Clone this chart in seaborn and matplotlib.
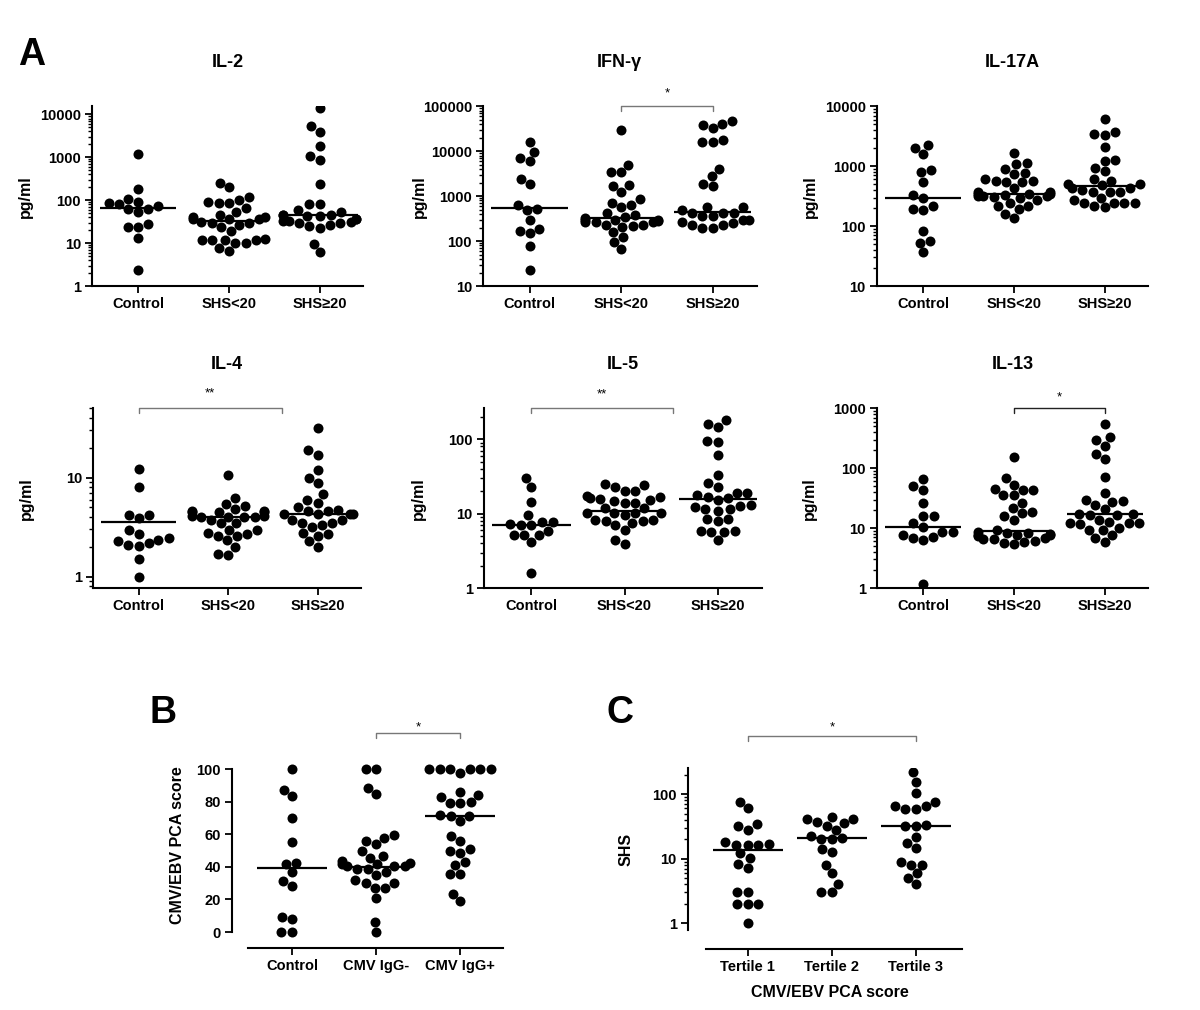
import numpy as np
import pandas as pd
import matplotlib
matplotlib.use("Agg")
import matplotlib.pyplot as plt
import seaborn as sns

# groups
groups_a = ["Control", "SHS<20", "SHS\u226520"]
groups_b = ["Control", "CMV IgG-", "CMV IgG+"]
groups_c = ["Tertile 1", "Tertile 2", "Tertile 3"]

# IL-2 (pg/ml)
il2_control = [1200, 180, 87, 72, 107, 61, 52, 64, 81, 92, 28, 24, 24, 13, 2.4]
il2_shs_lo = [257, 200, 100, 85, 88, 92, 116, 66, 53, 46, 41, 36, 30, 29, 24, 27, 31, 36, 36, 41,
              19, 12, 12, 12, 11.7, 12.4, 10.2, 10, 6.5, 7.8]
il2_shs_hi = [14000, 5260, 3880, 1800, 1050, 880, 235, 81, 80, 58, 53, 46, 46, 46, 42, 42, 37, 37,
              32, 31, 29, 29, 32, 25, 23, 27, 9.8, 6.2]
il2_median = [66, 33, 45]

# IFN-g
ifng_control = [15800, 9500, 7200, 5900, 2430, 1860, 650, 490, 530, 300, 188, 148, 170, 77, 23]
ifng_shs_lo = [30000, 5000, 3400, 3400, 1750, 1700, 1260, 720, 850, 630, 560, 420, 390, 345, 300,
               270, 290, 285, 300, 320, 260, 230, 220, 230, 210, 270, 160, 125, 94, 65]
ifng_shs_hi = [46500, 38000, 32000, 41000, 17300, 16000, 16000, 4000, 2780, 1900, 1670, 560, 490,
               560, 425, 425, 425, 360, 360, 300, 300, 255, 270, 230, 230, 200, 200]
ifng_median = [540, 320, 450]

# IL-17A
il17a_control = [2240, 2040, 1580, 880, 800, 550, 330, 290, 215, 185, 193, 83, 56, 53, 37]
il17a_shs_lo = [1670, 1140, 1080, 910, 740, 780, 570, 570, 540, 550, 600, 425, 375, 320, 320, 340,
                340, 350, 365, 290, 310, 320, 270, 240, 220, 220, 190, 162, 135, 330]
il17a_shs_hi = [6200, 3460, 3370, 3700, 2050, 1230, 1260, 830, 940, 570, 620, 500, 425, 370, 370,
                370, 400, 425, 480, 500, 270, 245, 245, 295, 245, 245, 205, 220]
il17a_median = [290, 345, 460]

# IL-4
il4_control = [12.2, 8.1, 4.2, 4.15, 3.9, 2.95, 2.7, 2.36, 2.45, 2.18, 2.27, 2.02, 2.1, 1.52, 1.0]
il4_shs_lo = [10.6, 6.2, 5.4, 5.2, 4.8, 4.5, 4.5, 4.5, 4.6, 4.6, 4.05, 4.05, 4.05, 4.05, 4.1, 4.1,
              3.5, 3.45, 3.75, 2.97, 2.97, 2.71, 2.75, 2.55, 2.6, 2.36, 2.0, 1.67, 1.7]
il4_shs_hi = [31.4, 19, 17, 11.9, 10, 8.8, 6.85, 5.9, 5.6, 5.0, 4.6, 4.55, 4.7, 4.27, 4.27, 4.27,
              4.27, 3.3, 3.14, 3.75, 3.46, 3.5, 3.7, 2.69, 2.75, 2.6, 2.27, 2.0]
il4_median = [3.6, 4.05, 4.27]

# IL-5
il5_control = [29.9, 23.1, 14.3, 9.5, 7.7, 7.3, 5.9, 7.1, 7.1, 7.7, 5.2, 5.1, 5.1, 4.1, 1.6]
il5_shs_lo = [24.9, 23.1, 23.9, 19.8, 20.3, 17.4, 16.7, 16.2, 15.4, 15.7, 13.9, 13.9, 14.6, 11.9,
              11.9, 10.2, 10.2, 9.7, 10.2, 10.2, 8.3, 8.3, 7.9, 7.9, 7.1, 7.5, 6.1, 4.4, 3.9]
il5_shs_hi = [179, 146, 158, 95, 91, 60.5, 33.4, 25.6, 23.1, 16.2, 18.9, 18.9, 17.5, 16.5, 15.1,
              13.2, 12.5, 10.9, 11.5, 11.5, 12.3, 8.5, 8.5, 7.9, 5.9, 5.6, 5.6, 5.9, 4.4]
il5_median = [7.1, 10.9, 15.5]

# IL-13
il13_control = [66, 50, 44, 25.8, 16.1, 16.1, 12, 10.4, 8.6, 7.8, 6.9, 6.3, 7.0, 8.6, 1.16]
il13_shs_lo = [151, 68, 53, 45, 43, 43, 35.5, 35, 26.5, 22, 18, 18.5, 15.9, 13.8, 8.2, 7.8, 7.4,
               8.4, 8.6, 9.3, 7.8, 7.8, 8.1, 6.5, 6.1, 5.7, 5.4, 5.9, 6.5, 6.8]
il13_shs_hi = [542, 296, 331, 236, 172, 142, 70, 39, 30, 28, 27.5, 24, 21, 17.2, 16.3, 16.3, 17.2,
               13.4, 12, 11.6, 12, 12, 12.6, 9.4, 9.4, 10.2, 7.8, 6.9, 5.9]
il13_median = [10.4, 8.9, 16.9]

# B: CMV/EBV PCA score
pca_control = [100, 87.5, 83.4, 70, 55.2, 41.7, 42.7, 36.8, 31.3, 28, 9.2, 8.2, 0, 0]
pca_igg_neg = [100, 100, 88.5, 84.9, 59.7, 57.7, 53.8, 56.2, 49.9, 46.6, 45.6, 43.4, 42.3, 41.5,
               40.5, 40.5, 41.5, 40.5, 38.9, 38.9, 36.8, 35, 31.7, 30.3, 30.3, 27.2, 27.2, 21.1,
               6.1, 0]
pca_igg_pos = [100, 100, 100, 100, 100, 100, 98, 84.3, 85.9, 83.2, 79.8, 79.3, 79.3, 72, 71, 71,
               68.1, 58.9, 55.8, 51.1, 49.9, 48.5, 42.9, 41.1, 35.8, 35.8, 23.1, 18.8]
pca_median = [39.3, 39.9, 71.4]

# C: SHS by PCA tertile
shs_t1 = [76, 60, 34, 28, 32, 17, 16.5, 18, 16, 16, 12, 8.2, 10.1, 7.1, 3.0, 3.0, 2.0, 2.0, 2.0, 1.0]
shs_t2 = [41, 37.3, 32, 36, 40.5, 43.5, 27.7, 22.7, 20.1, 20.1, 20.6, 13.9, 8.0, 12.8, 5.9, 4.0,
          3.0, 3.0]
shs_t3 = [219, 155, 106, 65, 58.7, 58.7, 65, 75, 32.3, 32.3, 33, 21.9, 17.7, 14.8, 8.0, 8.8, 8.0,
          5.9, 5.0, 4.0]
shs_median = [13.6, 20.6, 32]

sns.set_theme(style="ticks")
plt.rcParams["font.family"] = ["Liberation Sans", "DejaVu Sans"]
plt.rcParams["font.weight"] = "bold"
plt.rcParams["text.color"] = "black"
plt.rcParams["axes.labelcolor"] = "black"
plt.rcParams["xtick.color"] = "black"
plt.rcParams["ytick.color"] = "black"

fig = plt.figure(figsize=(12, 10.1), dpi=100)


def swarm_panel(ax, groups, values, medians, logy):
    df = pd.DataFrame({"group": np.repeat(groups, [len(v) for v in values]),
                       "value": np.concatenate(values)})
    sns.swarmplot(data=df, x="group", y="value", order=groups, color="black", size=7.2,
                  linewidth=0, log_scale=True if logy else None, ax=ax, zorder=2)
    pos = np.arange(len(groups))
    ax.hlines(medians, pos - 0.42, pos + 0.42, color="black", lw=1.6, zorder=3)
    ax.set_xlabel("")
    ax.set_ylabel("")


def style(ax):
    ax.spines["top"].set_visible(False)
    ax.spines["right"].set_visible(False)
    for s in ["left", "bottom"]:
        ax.spines[s].set_linewidth(1.5)
        ax.spines[s].set_color("black")
    ax.tick_params(axis="both", which="major", length=5, width=1.3, labelsize=10.5, pad=3,
                   color="black", labelcolor="black")
    ax.tick_params(axis="y", which="minor", length=3, width=1.0, color="black")
    ax.tick_params(axis="x", which="minor", length=0)
    ax.yaxis.set_minor_formatter(matplotlib.ticker.NullFormatter())
    for lab in ax.get_xticklabels() + ax.get_yticklabels():
        lab.set_fontweight("bold")


def bracket(ax, x0, x1, yb, ys, label, color="#777777"):
    tr = ax.get_xaxis_transform()
    ax.plot([x0, x0, x1, x1], [yb - 0.028, yb, yb, yb - 0.028], transform=tr, color=color,
            lw=1, clip_on=False)
    ax.text((x0 + x1) / 2, ys, label, transform=tr, ha="center", va="center", fontsize=9.5,
            fontweight="normal")


panels_a = [
    ("IL-2", [il2_control, il2_shs_lo, il2_shs_hi], il2_median, (1, 15500),
     [1, 10, 100, 1000, 10000], (0.0767, 0.7168, 0.226, 0.178), -0.218),
    ("IFN-\u03b3", [ifng_control, ifng_shs_lo, ifng_shs_hi], ifng_median, (10, 100000),
     [10, 100, 1000, 10000, 100000], (0.4025, 0.7168, 0.228, 0.178), -0.204),
    ("IL-17A", [il17a_control, il17a_shs_lo, il17a_shs_hi], il17a_median, (10, 10000),
     [10, 100, 1000, 10000], (0.7308, 0.7168, 0.226, 0.178), -0.218),
    ("IL-4", [il4_control, il4_shs_lo, il4_shs_hi], il4_median, (0.77, 50),
     [1, 10], (0.0775, 0.4178, 0.223, 0.178), -0.22),
    ("IL-5", [il5_control, il5_shs_lo, il5_shs_hi], il5_median, (1, 260),
     [1, 10, 100], (0.4033, 0.4178, 0.232, 0.178), -0.208),
    ("IL-13", [il13_control, il13_shs_lo, il13_shs_hi], il13_median, (1, 1000),
     [1, 10, 100, 1000], (0.7308, 0.4178, 0.226, 0.178), -0.22),
]

axes = {}
for title, vals, med, ylim, ticks, rect, ylab_x in panels_a:
    ax = fig.add_axes(rect)
    swarm_panel(ax, groups_a, vals, med, True)
    ax.set_ylim(*ylim)
    ax.set_xlim(-0.51, 2.48)
    ax.set_yticks(ticks)
    ax.set_yticklabels([f"{t:g}" for t in ticks])
    ax.set_title(title, pad=28, fontsize=13, fontweight="bold")
    ax.set_ylabel("pg/ml", fontsize=11.5, fontweight="bold")
    ax.yaxis.set_label_coords(ylab_x, 0.5)
    style(ax)
    axes[title] = ax

bracket(axes["IFN-\u03b3"], 1, 2, 1.0, 1.07, "*")
bracket(axes["IL-4"], 0, 1.6, 1.0, 1.085, "**")
bracket(axes["IL-5"], 0, 1.52, 1.0, 1.075, "**")
bracket(axes["IL-13"], 1, 2, 1.0, 1.06, "*", color="#222222")

# panel B
axb = fig.add_axes((0.1933, 0.0614, 0.2258, 0.185))
swarm_panel(axb, groups_b, [pca_control, pca_igg_neg, pca_igg_pos], pca_median, False)
axb.set_ylim(-9.8, 105)
axb.set_xlim(-0.714, 2.51)
axb.set_yticks([0, 20, 40, 60, 80, 100])
axb.spines["left"].set_bounds(0, 100)
axb.spines["bottom"].set_bounds(-0.524, 2.51)
axb.set_ylabel("CMV/EBV PCA score", fontsize=11.5, fontweight="bold")
axb.yaxis.set_label_coords(-0.173, 0.55)
style(axb)
bracket(axb, 1, 2, 1.15, 1.183, "*")

# panel C
axc = fig.add_axes((0.5733, 0.0604, 0.2283, 0.179))
swarm_panel(axc, groups_c, [shs_t1, shs_t2, shs_t3], shs_median, True)
axc.set_ylim(0.395, 253)
axc.set_xlim(-0.714, 2.55)
axc.set_yticks([1, 10, 100])
axc.set_yticklabels(["1", "10", "100"])
axc.yaxis.set_minor_locator(matplotlib.ticker.FixedLocator(
    [m * d for d in (1, 10, 100) for m in range(2, 10) if m * d < 253]))
axc.spines["left"].set_bounds(0.78, 253)
axc.spines["bottom"].set_bounds(-0.5, 2.55)
axc.set_ylabel("SHS", fontsize=11.5, fontweight="bold")
axc.yaxis.set_label_coords(-0.2, 0.55)
style(axc)
axc.text(0.518, -0.243, "CMV/EBV PCA score", transform=axc.transAxes, ha="center",
         va="center", fontsize=11.5, fontweight="bold")
bracket(axc, 0, 2, 1.18, 1.225, "*")

fig.text(0.015, 1 - 55 / 1010, "A", fontsize=27, fontweight="bold", va="center")
fig.text(0.125, 1 - 713 / 1010, "B", fontsize=27, fontweight="bold", va="center")
fig.text(0.505, 1 - 713 / 1010, "C", fontsize=27, fontweight="bold", va="center")

fig.savefig("out.png", dpi=100, facecolor="white")
